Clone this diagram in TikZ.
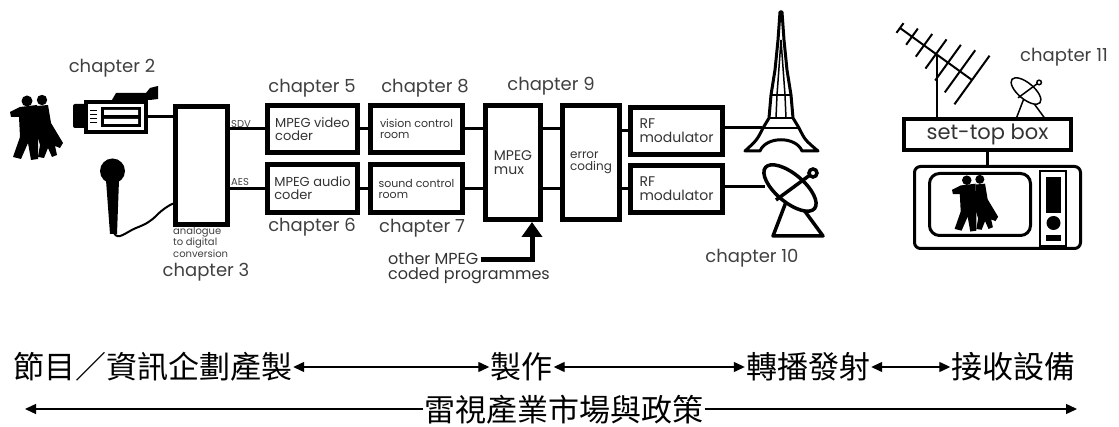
\documentclass[tikz,border=0pt]{standalone}
\usepackage{fontspec}
\newfontfamily\labfont{Poppins}
\newfontfamily\cjk{Noto Sans CJK TC}
\newcommand\lfs[1]{\labfont\fontsize{#1}{#1}\selectfont}
\usetikzlibrary{arrows.meta}
\tikzset{
  block/.style={draw, line width=5pt, align=left, text=black!80, font=\lfs{13}},
  link/.style={line width=3pt},
  chap/.style={inner sep=0pt, text=black!75, font=\lfs{18}},
  tag/.style={inner sep=0pt, text=black!75, font=\labfont\fontsize{10}{8.5}\selectfont, align=left},
  stage/.style={inner sep=1pt, font=\cjk\fontsize{31}{32}\selectfont},
  span/.style={line width=1.3pt, {Triangle[length=11pt,width=10pt]}-{Triangle[length=11pt,width=10pt]}},
  oneway/.style={line width=1.3pt, -{Triangle[length=11pt,width=10pt]}},
  dancers/.pic={
    \fill (17,6) circle (5.5) (32,5) circle (5.2);
    \fill (10,12) -- (27,10) -- (28,40) -- (28,64) -- (21,65) -- (18,48) -- (11,64) -- (3,62)
      -- (10,42) -- (9,22) -- (1,22) -- (0,17) -- cycle;
    \fill (27,11) -- (38,10) -- (41,28) -- (53,48) -- (50,53) -- (45,51) -- (47,60) -- (42,62)
      -- (38,53) -- (34,63) -- (28,62) -- (30,50) -- (27,40) -- cycle;
  },
  dish/.pic={
    \draw[line join=round] (-4,14) -- (-17,48) -- (33,48) -- (11,18);
    \filldraw[fill=white, rotate=-40] (0,0) ellipse [x radius=32, y radius=14];
    \draw (-14,12) -- (20,-13);
    \filldraw[fill=white] (23,-15) circle (4);
  }
}
\begin{document}
\begin{tikzpicture}[x=1pt,y=-1pt]
\useasboundingbox (0,0) rectangle (1119,427);

% sources: dancers, camera, microphone
\pic at (10,95) {dancers};
\fill[rounded corners=2pt] (73,104) rectangle (86,128);
\fill (84,100) rectangle (148,134);
\fill[white] (88,104) rectangle (144,130);
\fill (101,107) rectangle (141,127);
\fill[white] (104,110) rectangle (138,115) (104,119) rectangle (138,124);
\foreach \y in {111,115,119,123}
  \draw[line width=1pt] (90,\y) -- (97,\y);
\fill (112,100) -- (116,93) -- (146,93) -- (150,88) -- (158,86) -- (158,99) -- (150,100) -- cycle;
\coordinate (cam) at (148,117);
\fill (112.5,171) circle (12.5);
\fill (106,180) -- (119,180) -- (117,234) -- (110,234) -- cycle;
\coordinate (mic) at (114,233);

% processing chain
\node[block, minimum width=52pt, minimum height=118pt] (adc) at (201.5,165.5) {};
\node[block, minimum width=90pt, minimum height=47pt] (vcoder) at (312.5,129) {MPEG video\\coder};
\node[block, minimum width=90pt, minimum height=48pt] (acoder) at (312.5,188.5) {MPEG audio\\coder};
\node[block, font=\lfs{11}, minimum width=92pt, minimum height=47pt] (vroom) at (416.5,129) {vision control\\room};
\node[block, font=\lfs{11}, minimum width=92pt, minimum height=48pt] (sroom) at (416.5,188.5) {sound control\\room};
\node[block, font=\lfs{14}, minimum width=55pt, minimum height=114pt] (mux) at (513,162.5) {MPEG\\mux};
\node[block, font=\lfs{12}, minimum width=57pt, minimum height=114pt] (errc) at (591,162.5) {error\\coding};
\node[block, font=\lfs{14}, minimum width=92pt, minimum height=47pt] (rf1) at (676.5,131) {RF\\modulator};
\node[block, font=\lfs{14}, minimum width=92pt, minimum height=47pt] (rf2) at (676.5,189) {RF\\modulator};

\draw[link] (cam) -- (cam -| adc.west);
\draw[line width=2pt] (mic) .. controls (118,241) and (126,232) .. (136,228)
  .. controls (146,224) and (150,222) .. (157,215)
  .. controls (163,209) and (168,206) .. ([yshift=-38pt]adc.west);
\draw[link] (vcoder.west -| adc.east) -- (vcoder.west);
\draw[link] (acoder.west -| adc.east) -- (acoder.west);
\draw[link] (vcoder) -- (vroom);
\draw[link] (acoder) -- (sroom);
\draw[link] (vroom.east) -- (vroom.east -| mux.west);
\draw[link] (sroom.east) -- (sroom.east -| mux.west);
\draw[link] (mux.east |- vroom) -- (errc.west |- vroom);
\draw[link] (mux.east |- sroom) -- (errc.west |- sroom);
\draw[link] (errc.east |- rf1) -- (rf1.west);
\draw[link] (errc.east |- rf2) -- (rf2.west);

\node[tag, anchor=south west] (sdv) at (231,128) {SDV};
\node[tag, anchor=south west] (aes) at (231,186) {AES};
\node[tag, anchor=north west] (adclab) at (173,227) {analogue\\to digital\\conversion};

\node[anchor=base west, inner sep=0pt, text=black!80, font=\lfs{16}] (other1) at (388,265) {other MPEG};
\node[anchor=base west, inner sep=0pt, text=black!80, font=\lfs{16}] (other2) at (388,280) {coded programmes};
\coordinate (feed) at (532,260);
\draw[line width=5pt, -{Triangle[length=15pt,width=20pt]}] ([xshift=2pt]other1.east |- feed) -- (feed) -- (feed |- mux.south);

% transmitters
\draw[line width=3pt, line join=round, fill=white]
  (780,12) -- (782,12) -- (784,40) -- (787,70) -- (791,95) -- (793,118) -- (799,128)
  .. controls (805,140) .. (818,151) -- (802,151)
  .. controls (796,136) and (766,136) .. (760,151) -- (745,151)
  .. controls (757,140) .. (763,128) -- (769,118) -- (771,95) -- (775,70) -- (778,40) -- cycle;
\draw[line width=2pt] (771,95) -- (791,95) (769,118) -- (793,118) (763,128) -- (799,128);
\draw[line width=1.5pt] (777,95) -- (781,40) -- (785,95) (776,118) -- (777,95) (786,118) -- (785,95);
\coordinate (tower) at (762,128);
\pic[line width=3.5pt] at (790,188) {dish};
\coordinate (bigdish) at (765,187);
\draw[link] (rf1.east |- tower) -- (tower);
\draw[link] (rf2.east |- bigdish) -- (bigdish);

% receiver
\node[draw, line width=4pt, minimum width=167pt, minimum height=31pt, text=black!80, font=\lfs{21}] (stb) at (987.5,134.5) {set-top box};
\coordinate (mast) at (937,55);
\draw[line width=2pt] (mast) -- (mast |- stb.north);
\draw[line width=2pt] (900,28) -- (972,80);
\foreach \t in {0,...,6}
  \draw[line width=2pt] ({900+12*\t-(6+4*\t)*0.585},{28+8.667*\t+(6+4*\t)*0.81})
    -- ({900+12*\t+(6+4*\t)*0.585},{28+8.667*\t-(6+4*\t)*0.81});
\pic[scale=0.57, line width=1.5pt] at (1026,91) {dish};
\node[draw, line width=3pt, rounded corners=6pt, minimum width=166pt, minimum height=82pt] (tv) at (997.5,207.5) {};
\node[draw, line width=3pt, rounded corners=10pt, minimum width=101pt, minimum height=62pt] (screen) at (980,204.5) {};
\pic[scale=0.87] at (952,175) {dancers};
\draw[line width=2pt] (1040,171) rectangle (1066,246);
\fill (1046,177) rectangle (1061,213);
\fill (1053.5,223) circle (7);
\fill (1046,235) rectangle (1061,241);
\draw[link] (stb.south) -- (stb.south |- tv.north);

% chapter numbers
\node[chap] (ch2) at (112,68) {chapter 2};
\node[chap] (ch3) at (206,272) {chapter 3};
\node[chap] (ch5) at (312,88) {chapter 5};
\node[chap] (ch6) at (312,227) {chapter 6};
\node[chap] (ch7) at (422,228) {chapter 7};
\node[chap] (ch8) at (425,88) {chapter 8};
\node[chap] (ch9) at (551,86) {chapter 9};
\node[chap] (ch10) at (752,258) {chapter 10};
\node[chap] (ch11) at (1064,57) {chapter 11};

% stages
\node[stage] (prod) at (152.5,367) {節目／資訊企劃產製};
\node[stage] (make) at (521.5,367) {製作};
\node[stage] (tx) at (808,367) {轉播發射};
\node[stage] (rx) at (1013.5,367) {接收設備};
\draw[span] (prod) -- (make);
\draw[span] (make) -- (tx);
\draw[span] (tx) -- (rx);
\node[stage] (ind) at (564,410) {雷視產業市場與政策};
\coordinate (indL) at (25,409);
\coordinate (indR) at (1077,409);
\draw[oneway] (ind.west |- indL) -- (indL);
\draw[oneway] (ind.east |- indR) -- (indR);
\end{tikzpicture}
\end{document}
